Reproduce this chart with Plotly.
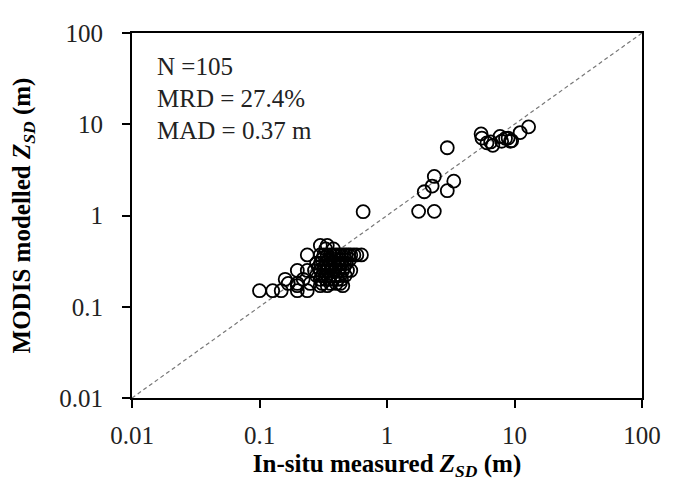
import plotly.graph_objects as go

# In-situ measured Z_SD (m) and MODIS modelled Z_SD (m)
insitu = [
    # isolated low-cluster points
    0.10, 0.127, 0.148, 0.198, 0.237,
    0.159, 0.168, 0.198, 0.198, 0.198, 0.237, 0.237, 0.30, 0.34, 0.63, 0.52, 0.45, 0.34, 0.30, 0.22, 0.25,
    # dense block
    0.30, 0.32, 0.34, 0.36, 0.38, 0.40, 0.42, 0.44, 0.46, 0.48, 0.50, 0.52, 0.55, 0.58,
    0.31, 0.35, 0.39, 0.43, 0.47, 0.51,
    0.28, 0.30, 0.33, 0.36, 0.38, 0.41, 0.44, 0.48,
    0.29, 0.32, 0.35, 0.37, 0.40, 0.43, 0.46,
    0.27, 0.30, 0.32, 0.34, 0.37, 0.39, 0.42, 0.45, 0.49,
    0.28, 0.31, 0.34, 0.36, 0.39, 0.43, 0.47,
    0.30, 0.33, 0.35, 0.38, 0.41, 0.44,
    0.31, 0.36, 0.40, 0.43,
    0.33, 0.38,
    # mid
    0.65, 2.97, 1.77, 2.35, 1.96, 2.26, 2.35, 2.97, 3.34,
    # upper cluster
    5.47, 5.55, 6.08, 6.76, 7.7, 7.93, 8.91, 9.29, 11.07, 12.9, 6.5, 9.5, 8.5,
]
modis = [
    0.15, 0.15, 0.15, 0.15, 0.15,
    0.20, 0.18, 0.17, 0.18, 0.25, 0.25, 0.37, 0.47, 0.47, 0.37, 0.25, 0.17, 0.17, 0.17, 0.20, 0.18,
    0.37, 0.37, 0.37, 0.37, 0.37, 0.37, 0.37, 0.37, 0.37, 0.37, 0.37, 0.37, 0.37, 0.37,
    0.33, 0.33, 0.33, 0.33, 0.33, 0.33,
    0.30, 0.30, 0.30, 0.30, 0.30, 0.30, 0.30, 0.30,
    0.27, 0.27, 0.27, 0.27, 0.27, 0.27, 0.27,
    0.25, 0.25, 0.25, 0.25, 0.25, 0.25, 0.25, 0.25, 0.25,
    0.22, 0.22, 0.22, 0.22, 0.22, 0.22, 0.22,
    0.20, 0.20, 0.20, 0.20, 0.20, 0.20,
    0.18, 0.18, 0.18, 0.18,
    0.43, 0.43,
    1.10, 5.53, 1.11, 1.11, 1.82, 2.10, 2.68, 1.87, 2.38,
    7.84, 7.05, 6.25, 5.87, 7.35, 6.51, 7.05, 6.51, 8.1, 9.36, 6.4, 6.6, 7.0,
]

tick_vals = [0.01, 0.1, 1, 10, 100]
tick_text = ["0.01", "0.1", "1", "10", "100"]
stats_lines = ["N =105", "MRD = 27.4%", "MAD = 0.37 m"]

FONT = "Liberation Serif, Times New Roman, serif"

fig = go.Figure()
fig.add_trace(go.Scatter(
    x=[0.01, 100], y=[0.01, 100], mode="lines",
    line=dict(color="#777777", width=1.2, dash="4px,3px"),
    showlegend=False, hoverinfo="skip",
))
fig.add_trace(go.Scatter(
    x=insitu, y=modis, mode="markers",
    marker=dict(symbol="circle-open", size=13, color="black", line=dict(width=1.8, color="black")),
    showlegend=False,
))

axis_common = dict(
    type="log", tickvals=tick_vals, ticktext=tick_text,
    showgrid=False, zeroline=False, showline=True, linecolor="black", linewidth=2,
    mirror=True, ticks="outside", ticklen=8, tickwidth=1.5, tickcolor="black",
    tickfont=dict(family=FONT, size=25, color="#222222"),
    ticklabeloverflow="allow",
)
fig.update_xaxes(range=[-2, 2], **axis_common, ticklabelstandoff=6,
                 title=dict(text="<b>In-situ measured <i>Z</i><sub><i>SD</i></sub> (m)</b>",
                            font=dict(family=FONT, size=25, color="black"), standoff=6))
fig.update_yaxes(range=[-2, 2], **axis_common, ticklabelstandoff=14,
                 title=dict(text="<b>MODIS modelled <i>Z</i><sub><i>SD</i></sub> (m)</b>",
                            font=dict(family=FONT, size=25, color="black"), standoff=22))

for i, t in enumerate(stats_lines):
    fig.add_annotation(text=t, xref="paper", yref="paper", x=0.046, y=0.908 - i * 0.088,
                       xanchor="left", yanchor="middle", showarrow=False,
                       font=dict(family=FONT, size=25, color="#222222"))

# page body adds an 8px offset; size the figure so the plot box lands where the reference has it
fig.update_layout(
    width=665, height=477,
    margin=dict(l=122, r=23, t=15, b=82),
    plot_bgcolor="white", paper_bgcolor="white",
)
fig.write_html("out.html")
